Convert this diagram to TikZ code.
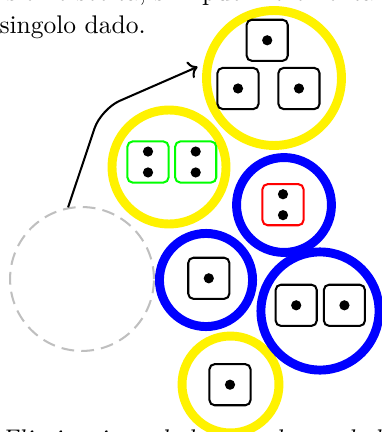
\documentclass[tikz,border=0pt]{standalone}
\usepackage{tikz}
\usetikzlibrary{positioning,arrows.meta,calc}
\tikzset{
  ring/.style    ={circle, draw, line width=3.5pt, inner sep=0pt},
  yring/.style   ={ring, draw=yellow},
  bring/.style   ={ring, draw=blue},
  voidring/.style={circle, draw=gray!50, line width=0.8pt,
    dash pattern=on 5pt off 2.8pt, inner sep=0pt, minimum size=56.4pt},
  die/.style     ={draw, thick, rounded corners=2pt, minimum size=16.1pt,
    inner sep=0pt},
  pipone/.style  ={path picture={
      \fill (path picture bounding box.center) circle (2pt);}},
  piptwo/.style  ={path picture={
      \fill ($(path picture bounding box.center)+(0,4.1pt)$) circle (2pt);
      \fill ($(path picture bounding box.center)-(0,4.1pt)$) circle (2pt);}},
  txt/.style     ={inner sep=0pt, anchor=base west},
  arr/.style     ={->, thick, rounded corners=8pt, shorten >=2.5pt}
}

\begin{document}
\begin{tikzpicture}[x=0.392pt, y=-0.392pt]
    \useasboundingbox (0,0) rectangle (382,432);

    % ---------- empty set and the rings ----------
    \node[voidring] (voidc) at (82,279) {};
    \node[yring, minimum size=52.9pt] (ytop)  at (274,78)    {};
    \node[yring, minimum size=44.7pt] (ymid)  at (169,167)   {};
    \node[yring, minimum size=38.0pt] (yfoot) at (230.5,384.5) {};
    \node[bring, minimum size=37.2pt] (bred)  at (284,205)   {};
    \node[bring, minimum size=36.5pt] (bmid)  at (206,280)   {};
    \node[bring, minimum size=46.3pt] (bpair) at (320,311)   {};

    % ---------- dice ----------
    \node[die, pipone] (t2) at (238,88.5) {};
    \node[die, pipone, right=7pt of t2] (t3) {};
    \node[die, pipone, above=2pt of $(t2.north)!0.5!(t3.north)$,
      anchor=south, xshift=-0.5pt] (t1) {};

    \node[die, piptwo, draw=green] (g1) at (148,162) {};
    \node[die, piptwo, draw=green, right=1.8pt of g1] (g2) {};

    \node[die, piptwo, draw=red] (r1) at (283,204.7) {};

    \node[die, pipone] (m1) at (208.8,278.3) {};

    \node[die, pipone] (p1) at (296.2,305.3) {};
    \node[die, pipone, right=2pt of p1] (p2) {};

    \node[die, pipone] (f1) at (230,384.7) {};

    % ---------- arrow ----------
    \coordinate (bend) at (101,109);
    \draw[arr] (voidc.101) -- (bend) -- (ytop.169);

    % ---------- surrounding text ----------
    \node[txt] (line1) at (-15,1)
      {insieme scelta, si\hspace{12pt}può incrementare il valore};
    \node[txt] (line2) at (-1,33.3) {singolo dado.};
    \node[txt, font=\itshape] (caption) at (0,447)
      {Eliminazione dado quando un dado};

\end{tikzpicture}
\end{document}
